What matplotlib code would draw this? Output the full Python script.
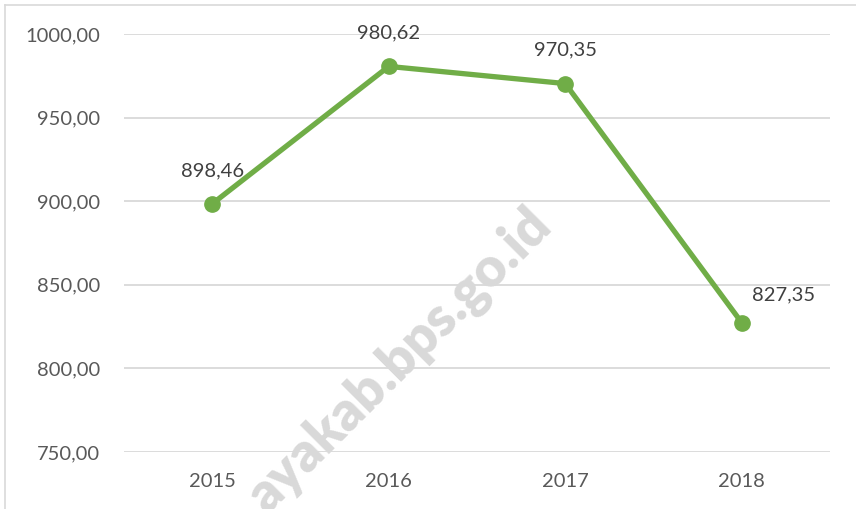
import matplotlib.pyplot as plt
from matplotlib.lines import Line2D

# data
years = ['2015', '2016', '2017', '2018']
values = [898.46, 980.62, 970.35, 827.35]
y_ticks = [750, 800, 850, 900, 950, 1000]

def id_fmt(v):
    # indonesian decimal comma
    return f'{v:.2f}'.replace('.', ',')

plt.rcParams['font.family'] = ['Lato', 'DejaVu Sans']
text_col = '#595959'
green = '#70AD47'

fig = plt.figure(figsize=(8.56, 5.09), dpi=100)
ax = fig.add_axes([0.1449, 0.112, 0.8247, 0.8212])

x = list(range(len(years)))
ax.plot(x, values, color=green, lw=3.8, marker='o', markersize=11,
        solid_capstyle='round', zorder=3)

for i, v in enumerate(values):
    if i == len(values) - 1:
        dx, dy = 30, 20
    else:
        dx, dy = 0, 24
    ax.annotate(id_fmt(v), (i, v), xytext=(dx, dy), textcoords='offset points',
                ha='center', va='center', fontsize=14.5, color='#404040', zorder=4)

ax.set_xlim(-0.5, len(years) - 0.5)
ax.set_ylim(y_ticks[0], y_ticks[-1])
ax.set_xticks(x)
ax.set_xticklabels(years)
ax.set_yticks(y_ticks)
ax.set_yticklabels([id_fmt(t) for t in y_ticks])
ax.tick_params(axis='both', length=0, labelsize=14.5, labelcolor=text_col)
ax.tick_params(axis='y', pad=17)
ax.tick_params(axis='x', pad=15)
ax.grid(axis='y', color='#d9d9d9', lw=1.3, zorder=0)
ax.set_axisbelow(True)
for s in ax.spines.values():
    s.set_visible(False)

# watermark (cut off at the bottom edge, like the source image)
ax.text(0.608, 0.535, 'ayakab.bps.go.id', transform=ax.transAxes,
        rotation=45, ha='right', va='baseline', fontsize=39, fontweight='heavy',
        color='#d9d9d9', zorder=1, clip_on=False, rotation_mode='anchor')

# outer chart border (top and left only visible)
fig.add_artist(Line2D([5 / 856, 1], [1 - 5 / 509, 1 - 5 / 509],
                      transform=fig.transFigure, color='#d9d9d9', lw=1.2))
fig.add_artist(Line2D([5 / 856, 5 / 856], [0, 1 - 5 / 509],
                      transform=fig.transFigure, color='#d9d9d9', lw=1.2))

fig.savefig('out.png', dpi=100)
